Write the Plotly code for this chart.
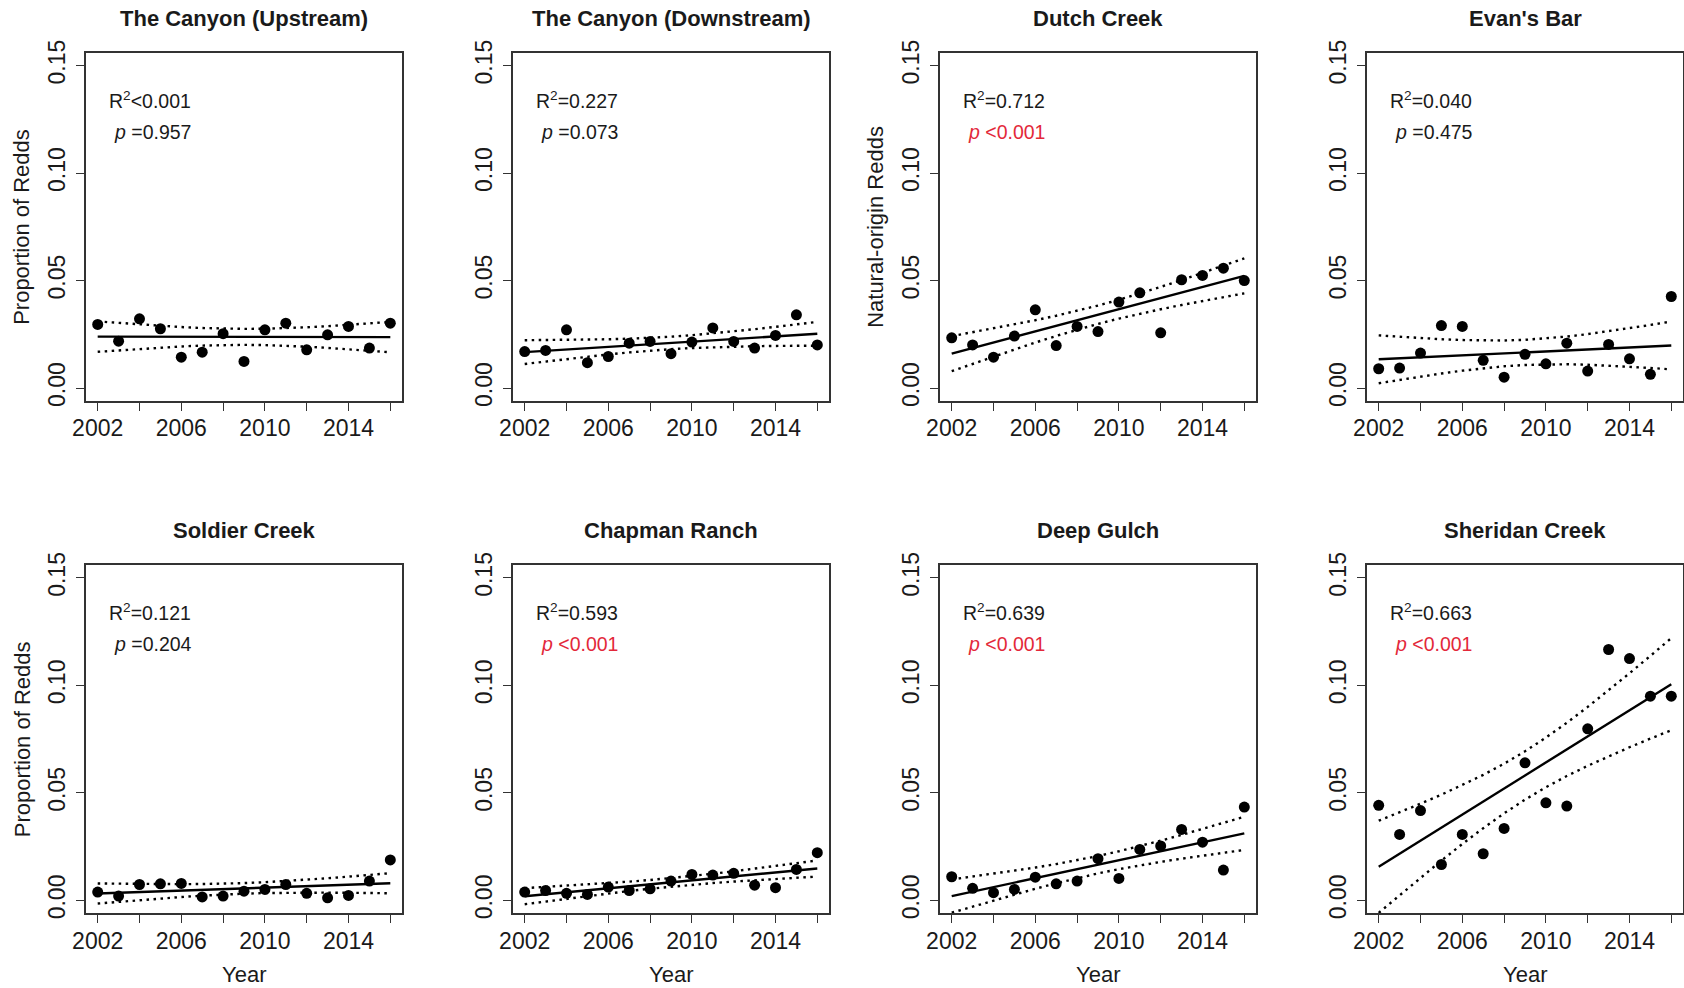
import numpy as np
import plotly.graph_objects as go

years = list(range(2002, 2017))

site_names = ["The Canyon (Upstream)", "The Canyon (Downstream)", "Dutch Creek", "Evan's Bar",
              "Soldier Creek", "Chapman Ranch", "Deep Gulch", "Sheridan Creek"]

canyon_up = [0.0296, 0.0218, 0.0322, 0.0276, 0.0144, 0.0167, 0.0253, 0.0124, 0.0271, 0.0302,
             0.0178, 0.0248, 0.0287, 0.0186, 0.0302]
canyon_down = [0.0170, 0.0175, 0.0271, 0.0118, 0.0147, 0.0209, 0.0217, 0.0160, 0.0214, 0.0280,
               0.0217, 0.0186, 0.0245, 0.0341, 0.0201]
dutch = [0.0234, 0.0201, 0.0144, 0.0242, 0.0364, 0.0198, 0.0287, 0.0263, 0.0400, 0.0443,
         0.0257, 0.0504, 0.0524, 0.0558, 0.0500]
evans = [0.0090, 0.0093, 0.0163, 0.0291, 0.0287, 0.0129, 0.0051, 0.0157, 0.0113, 0.0209,
         0.0079, 0.0203, 0.0136, 0.0064, 0.0426]
soldier = [0.0039, 0.0020, 0.0074, 0.0077, 0.0079, 0.0016, 0.0020, 0.0043, 0.0051, 0.0074,
           0.0033, 0.0012, 0.0023, 0.0090, 0.0188]
chapman = [0.0039, 0.0046, 0.0033, 0.0028, 0.0062, 0.0046, 0.0054, 0.0090, 0.0121, 0.0118,
           0.0126, 0.0071, 0.0059, 0.0144, 0.0222]
deep = [0.0110, 0.0056, 0.0036, 0.0051, 0.0108, 0.0077, 0.0090, 0.0194, 0.0102, 0.0237,
        0.0253, 0.0330, 0.0271, 0.0141, 0.0434]
sheridan = [0.0442, 0.0307, 0.0418, 0.0167, 0.0307, 0.0217, 0.0335, 0.0640, 0.0454, 0.0439,
            0.0798, 0.1167, 0.1125, 0.0950, 0.0950]

series = [canyon_up, canyon_down, dutch, evans, soldier, chapman, deep, sheridan]
r2_text = ["R<sup>2</sup>&lt;0.001", "R<sup>2</sup>=0.227", "R<sup>2</sup>=0.712", "R<sup>2</sup>=0.040",
           "R<sup>2</sup>=0.121", "R<sup>2</sup>=0.593", "R<sup>2</sup>=0.639", "R<sup>2</sup>=0.663"]
p_text = ["=0.957", "=0.073", "&lt;0.001", "=0.475", "=0.204", "&lt;0.001", "&lt;0.001", "&lt;0.001"]
p_sig = [False, False, True, False, False, True, True, True]
y_titles = {0: "Proportion of Redds", 2: "Natural-origin Redds", 4: "Proportion of Redds"}

x_tickvals = list(range(2002, 2017, 2))
x_ticktext = ["2002", "", "2006", "", "2010", "", "2014", ""]
y_tickvals = [0.0, 0.05, 0.10, 0.15]
y_ticktext = ["0.00", "0.05", "0.10", "0.15"]

W, H = 1684, 988
FONT = "Liberation Sans, Arial, sans-serif"
TXT = "#1a1a1a"
RED = "#e3283a"
T13 = 2.1604  # t quantile (0.975, df=13)

col_left = [86, 513, 940, 1367]
box_w = 316
row_y = [(52.7, 401.0), (565.0, 913.3)]

fig = go.Figure()
annotations = []
layout = {}

x_arr = np.array(years, dtype=float)
for i, vals in enumerate(series):
    r, c = divmod(i, 4)
    k = "" if i == 0 else str(i + 1)
    xa, ya = "x" + k, "y" + k
    L = col_left[c]
    top, bot = row_y[r]
    xdom = [L / W, (L + box_w) / W]
    ydom = [1 - bot / H, 1 - top / H]

    y_arr = np.array(vals)
    n = len(x_arr)
    b1, b0 = np.polyfit(x_arr, y_arr, 1)
    fit = b0 + b1 * x_arr
    resid = y_arr - fit
    s = np.sqrt(np.sum(resid ** 2) / (n - 2))
    xm = x_arr.mean()
    sxx = np.sum((x_arr - xm) ** 2)
    se = s * np.sqrt(1 / n + (x_arr - xm) ** 2 / sxx)
    upper = fit + T13 * se
    lower = fit - T13 * se

    for band in (upper, lower):
        fig.add_trace(go.Scatter(x=years, y=band, mode="lines", xaxis=xa, yaxis=ya,
                                 line=dict(color="black", width=2.4, dash="2.5px,4.5px"),
                                 showlegend=False, hoverinfo="skip"))
    fig.add_trace(go.Scatter(x=years, y=fit, mode="lines", xaxis=xa, yaxis=ya,
                             line=dict(color="black", width=2.4), showlegend=False))
    fig.add_trace(go.Scatter(x=years, y=vals, mode="markers", xaxis=xa, yaxis=ya,
                             marker=dict(color="black", size=11, line=dict(width=0)),
                             cliponaxis=False, showlegend=False))

    common = dict(showline=True, mirror=True, linecolor="#333333", linewidth=1.6,
                  showgrid=False, zeroline=False, ticks="outside", ticklen=8, tickwidth=1.3,
                  automargin=False,
                  tickcolor="#333333", tickfont=dict(family=FONT, size=23, color=TXT))
    layout["xaxis" + k] = dict(domain=xdom, anchor=ya, range=[2001.44, 2016.56],
                               tickmode="array", tickvals=x_tickvals, ticktext=x_ticktext,
                               ticklabelstandoff=-2, **common)
    layout["yaxis" + k] = dict(domain=ydom, anchor=xa, range=[-0.006, 0.156],
                               tickmode="array", tickvals=y_tickvals, ticktext=y_ticktext,
                               tickangle=-90, ticklabelstandoff=2, **common)

    xc = (L + box_w / 2) / W
    title_y = 18 if r == 0 else 530.7
    annotations.append(dict(text="<b>" + site_names[i] + "</b>", x=xc, y=1 - title_y / H,
                            xref="paper", yref="paper", showarrow=False,
                            xanchor="center", yanchor="middle",
                            font=dict(family=FONT, size=22, color=TXT)))
    annotations.append(dict(text=r2_text[i], x=0.066, y=0.864, xref=xa + " domain",
                            yref=ya + " domain", showarrow=False, xanchor="left",
                            yanchor="middle", font=dict(family=FONT, size=19.5, color=TXT)))
    pc = RED if p_sig[i] else TXT
    annotations.append(dict(text="<i>p</i> " + p_text[i], x=0.082, y=0.772, xref=xa + " domain",
                            yref=ya + " domain", showarrow=False, xanchor="left",
                            yanchor="middle", font=dict(family=FONT, size=19.5, color=pc)))
    if i in y_titles:
        ytc = 22 if c == 0 else L - 64
        annotations.append(dict(text=y_titles[i], x=ytc / W, y=(ydom[0] + ydom[1]) / 2,
                                xref="paper", yref="paper", showarrow=False, textangle=-90,
                                xanchor="center", yanchor="middle",
                                font=dict(family=FONT, size=22, color=TXT)))
    if r == 1:
        annotations.append(dict(text="Year", x=xc, y=1 - 974 / H, xref="paper", yref="paper",
                                showarrow=False, xanchor="center", yanchor="middle",
                                font=dict(family=FONT, size=22, color=TXT)))

fig.update_layout(width=W, height=H, margin=dict(l=0, r=0, t=0, b=0, autoexpand=False),
                  paper_bgcolor="white", plot_bgcolor="white",
                  annotations=annotations, **layout)
fig.write_html("out.html",
               post_script="document.body.style.margin='0';document.body.style.padding='0';")
